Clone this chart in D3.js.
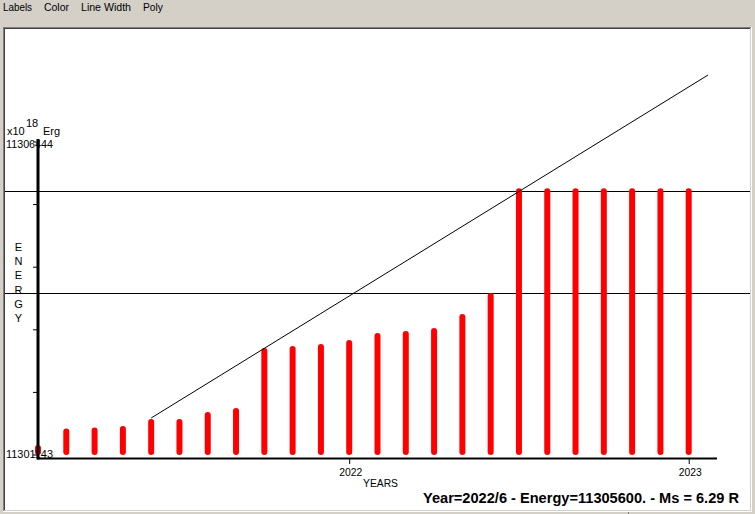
<!DOCTYPE html>
<html><head><meta charset="utf-8">
<script src="https://cdn.jsdelivr.net/npm/d3@7"></script>
<style>html,body{margin:0;padding:0;background:#d4d0c8;overflow:hidden}svg{display:block}</style>
</head><body><svg id="c" width="755" height="514"></svg>
<script>
// ---- data ----
const menuItems = ["Labels", "Color", "Line Width", "Poly"];
const months = ["2021-02","2021-03","2021-04","2021-05","2021-06","2021-07","2021-08","2021-09",
  "2021-10","2021-11","2021-12","2022-01","2022-02","2022-03","2022-04","2022-05","2022-06",
  "2022-07","2022-08","2022-09","2022-10","2022-11","2022-12","2023-01"];
const energy = [11301253, 11301533, 11301549, 11301575, 11301693, 11301693, 11301812, 11301880,
  11302896, 11302930, 11302964, 11303031, 11303150, 11303184, 11303235, 11303472, 11303827,
  11305600, 11305600, 11305600, 11305600, 11305600, 11305600, 11305600];
const yDomain = [11301143, 11306444];
const yLabels = ["11301143", "11306444"];
const yTickCount = 6;
const xTickYears = [2022, 2023];
const xTickLabels = ["2022", "2023"];
const refLines = [11303870, 11305600];
const trendYears = [2021.4167, 2023.057];
const trendEnergy = [11301761, 11307570];
const yTitle = ["E", "N", "E", "R", "G", "Y"];
const xTitle = "YEARS";
const unitText = ["x10", "18", "Erg"];
const statusText = "Year=2022/6 - Energy=11305600. - Ms = 6.29 R";

// ---- drawing ----
const svg = d3.select("#c");
const font = "'Liberation Sans', Arial, sans-serif";
const toYear = s => { const [y, m] = s.split("-").map(Number); return y + (m - 1) / 12; };
const years = months.map(toYear);

// menu
const menuX = [3, 44, 81, 143], menuW = [29, 25, 50, 20];
svg.selectAll("text.menu").data(menuItems).join("text")
  .attr("x", (d, i) => menuX[i]).attr("y", 11)
  .attr("textLength", (d, i) => menuW[i]).attr("lengthAdjust", "spacingAndGlyphs")
  .attr("font-family", font).attr("font-size", 11).attr("fill", "#000").text(d => d);

// panel with sunken border
svg.append("rect").attr("x", 3).attr("y", 27).attr("width", 749).attr("height", 485).attr("fill", "#ffffff");
svg.append("rect").attr("x", 3).attr("y", 27).attr("width", 748).attr("height", 484).attr("fill", "#808080");
svg.append("rect").attr("x", 4).attr("y", 28).attr("width", 747).attr("height", 483).attr("fill", "#d4d0c8");
svg.append("rect").attr("x", 4).attr("y", 28).attr("width", 746).attr("height", 482).attr("fill", "#404040");
svg.append("rect").attr("x", 5).attr("y", 29).attr("width", 745).attr("height", 481).attr("fill", "#ffffff");
// status bar divider
svg.append("line").attr("x1", 628.5).attr("x2", 628.5).attr("y1", 512).attr("y2", 514).attr("stroke", "#808080");

const x = d3.scaleLinear().domain([years[0], years[years.length - 1] + 1 / 12]).range([38, 717]);
const y = d3.scaleLinear().domain(yDomain).range([454.5, 141.5]);

// reference lines
svg.selectAll("line.ref").data(refLines).join("line")
  .attr("x1", 5).attr("x2", 750)
  .attr("y1", d => Math.round(y(d)) + 0.5).attr("y2", d => Math.round(y(d)) + 0.5)
  .attr("stroke", "#000").attr("stroke-width", 1);

// bars
svg.selectAll("line.bar").data(years).join("line")
  .attr("x1", d => x(d)).attr("x2", d => x(d))
  .attr("y1", y(yDomain[0]) - 2.5).attr("y2", (d, i) => y(energy[i]))
  .attr("stroke", "#ff0000").attr("stroke-width", 6).attr("stroke-linecap", "round");

// trend line
svg.append("line")
  .attr("x1", x(trendYears[0])).attr("y1", y(trendEnergy[0]))
  .attr("x2", x(trendYears[1])).attr("y2", y(trendEnergy[1]))
  .attr("stroke", "#000").attr("stroke-width", 1);

// y axis
const yTicks = d3.range(yTickCount).map(i => yDomain[0] + i * (yDomain[1] - yDomain[0]) / (yTickCount - 1));
const gy = svg.append("g").attr("transform", "translate(38,0)")
  .call(d3.axisLeft(y).tickValues(yTicks).tickSize(5).tickSizeOuter(0).tickFormat(""));
gy.select(".domain").remove();
gy.selectAll(".tick line").attr("stroke", "#000");
svg.append("line").attr("x1", 38).attr("x2", 38).attr("y1", 139).attr("y2", 459.5)
  .attr("stroke", "#000").attr("stroke-width", 3);

// x axis
const gx = svg.append("g").attr("transform", "translate(0,459)")
  .call(d3.axisBottom(x).tickValues(xTickYears).tickSize(5).tickSizeOuter(0).tickFormat(""));
gx.select(".domain").remove();
gx.selectAll(".tick line").attr("stroke", "#000");
svg.append("line").attr("x1", 37).attr("x2", 717).attr("y1", 458.5).attr("y2", 458.5)
  .attr("stroke", "#000").attr("stroke-width", 2);
svg.selectAll("text.xt").data(xTickYears).join("text")
  .attr("x", d => x(d) - 10).attr("y", 476)
  .attr("textLength", 23).attr("lengthAdjust", "spacingAndGlyphs")
  .attr("font-family", font).attr("font-size", 11).text((d, i) => xTickLabels[i]);
svg.append("text").attr("x", 363).attr("y", 487).attr("textLength", 35).attr("lengthAdjust", "spacingAndGlyphs")
  .attr("font-family", font).attr("font-size", 11).text(xTitle);

// y labels
svg.append("text").attr("x", 6).attr("y", y(yDomain[1]) + 6.5).attr("textLength", 47).attr("lengthAdjust", "spacingAndGlyphs")
  .attr("font-family", font).attr("font-size", 11).text(yLabels[1]);
svg.append("text").attr("x", 6).attr("y", y(yDomain[0]) + 3.5).attr("textLength", 47).attr("lengthAdjust", "spacingAndGlyphs")
  .attr("font-family", font).attr("font-size", 11).text(yLabels[0]);
svg.append("text").attr("x", 7).attr("y", 135).attr("font-family", font).attr("font-size", 11).text(unitText[0]);
svg.append("text").attr("x", 26).attr("y", 127).attr("font-family", font).attr("font-size", 11).text(unitText[1]);
svg.append("text").attr("x", 43).attr("y", 135).attr("font-family", font).attr("font-size", 11).text(unitText[2]);
svg.selectAll("text.yt").data(yTitle).join("text")
  .attr("x", 18.5).attr("y", (d, i) => 251 + i * 14.2).attr("text-anchor", "middle")
  .attr("font-family", font).attr("font-size", 11).text(d => d);

// status
svg.append("text").attr("x", 423).attr("y", 503).attr("textLength", 316).attr("lengthAdjust", "spacingAndGlyphs")
  .attr("font-family", font).attr("font-size", 14).attr("font-weight", "bold").text(statusText);
</script></body></html>
